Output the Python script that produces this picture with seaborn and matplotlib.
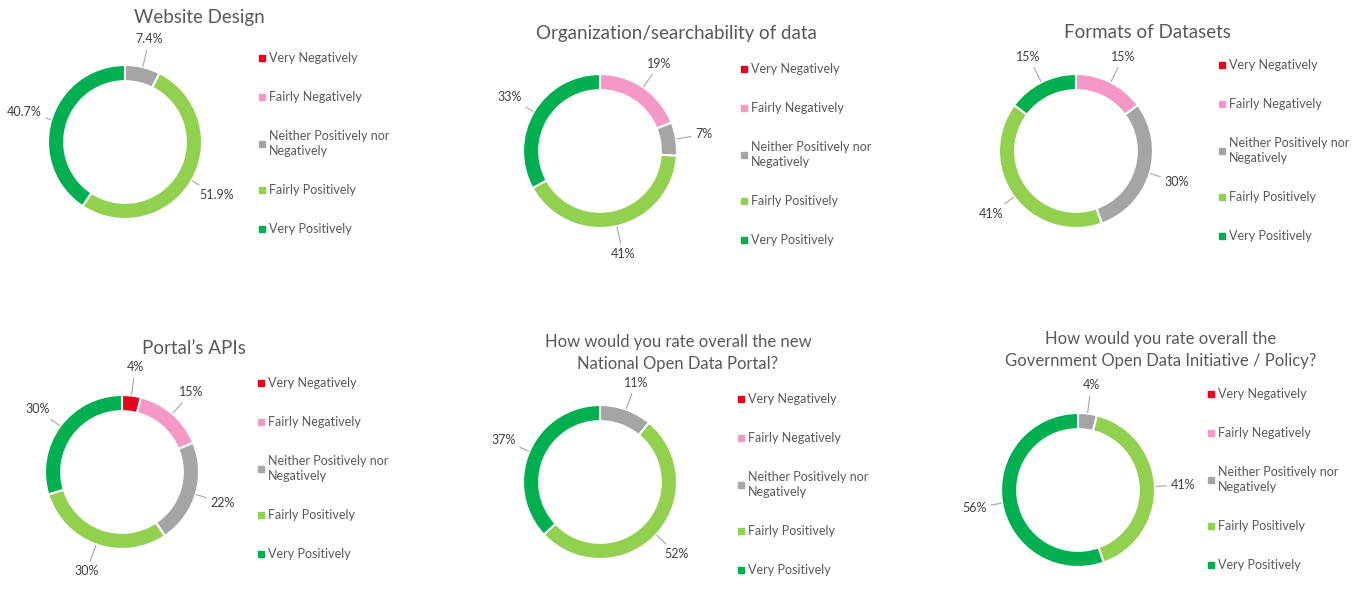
import numpy as np
import matplotlib
matplotlib.use("Agg")
import matplotlib.pyplot as plt
from matplotlib.lines import Line2D
import seaborn as sns

# answer categories (legend order, clockwise from top)
categories = ["Very Negatively", "Fairly Negatively",
              "Neither Positively nor\nNegatively", "Fairly Positively", "Very Positively"]

# percentages per question
website_design = [0, 0, 7.4, 51.9, 40.7]
organization = [0, 19, 7, 41, 33]
formats = [0, 15, 30, 41, 15]
portal_apis = [4, 15, 22, 30, 30]
national_portal = [0, 0, 11, 52, 37]
government_policy = [0, 0, 4, 41, 56]

titles = ["Website Design", "Organization/searchability of data", "Formats of Datasets",
          "Portal\u2019s APIs", "How would you rate overall the new\nNational Open Data Portal?",
          "How would you rate overall the\nGovernment Open Data Initiative / Policy?"]
label_fmt = ["{:.1f}%", "{:.0f}%", "{:.0f}%", "{:.0f}%", "{:.0f}%", "{:.0f}%"]

colors = ["#E8001F", "#F598C6", "#A5A5A5", "#92D050", "#00B050"]

sns.set_theme(style="white")
plt.rcParams["font.family"] = ["Lato", "DejaVu Sans"]

W, H = 1366, 590
fig = plt.figure(figsize=(W / 100, H / 100), dpi=100)

# layout in pixels: donut centre, title centre, legend top-left
panels = [
    dict(c=(125, 142), t=(199, 18), lg=(258, 52), fs=13.5),
    dict(c=(600, 151), t=(676, 33), lg=(740, 63), fs=13.5),
    dict(c=(1076, 151), t=(1147, 32), lg=(1218, 59), fs=13.5),
    dict(c=(122, 472), t=(194, 348), lg=(257, 377), fs=13.5),
    dict(c=(600, 482), t=(678, 353), lg=(737, 393), fs=12),
    dict(c=(1078, 490), t=(1161, 350), lg=(1207, 388), fs=12),
]
series = [website_design, organization, formats, portal_apis, national_portal, government_policy]
R = 77  # outer radius px
LIM = 1.6

handles = [Line2D([0], [0], marker="s", color="none", markerfacecolor=c,
                  markeredgecolor=c, markersize=4) for c in colors]

for vals, title, fmt, p in zip(series, titles, label_fmt, panels):
    cx, cy = p["c"]
    size = 2 * LIM * R
    ax = fig.add_axes([(cx - size / 2) / W, (H - cy - size / 2) / H, size / W, size / H])
    ax.pie(vals, colors=colors, startangle=90, counterclock=False, radius=1.0,
           wedgeprops=dict(width=0.21, edgecolor="white", linewidth=1.5))
    ax.set_xlim(-LIM, LIM)
    ax.set_ylim(-LIM, LIM)
    ax.set_aspect("equal")
    ax.axis("off")

    # percentage labels with leader lines
    total = float(sum(vals))
    cum = 0.0
    for v in vals:
        if v == 0:
            continue
        mid = (cum + v / 2) / total
        cum += v
        ang = np.deg2rad(90 - 360 * mid)
        x0, y0 = np.cos(ang), np.sin(ang)
        ax.annotate(fmt.format(v), xy=(x0 * 1.01, y0 * 1.01), xytext=(1.37 * x0, 1.37 * y0),
                    ha="center", va="center", fontsize=9, color="#404040",
                    arrowprops=dict(arrowstyle="-", color="#A6A6A6", lw=0.8,
                                    shrinkA=1, shrinkB=0))

    tx, ty = p["t"]
    fig.text(tx / W, 1 - ty / H, title, ha="center", va="center",
             fontsize=p["fs"], color="#595959", linespacing=1.5)

    lx, ly = p["lg"]
    leg = fig.legend(handles, categories, loc="upper left",
                     bbox_to_anchor=(lx / W, 1 - ly / H), bbox_transform=fig.transFigure,
                     frameon=False, fontsize=9, labelcolor="#595959",
                     labelspacing=2.15, handlelength=0.6, handletextpad=0.3, borderpad=0,
                     borderaxespad=0)
    for t in leg.get_texts():
        t.set_linespacing(1.35)

fig.savefig("out.png", dpi=100, facecolor="white")
